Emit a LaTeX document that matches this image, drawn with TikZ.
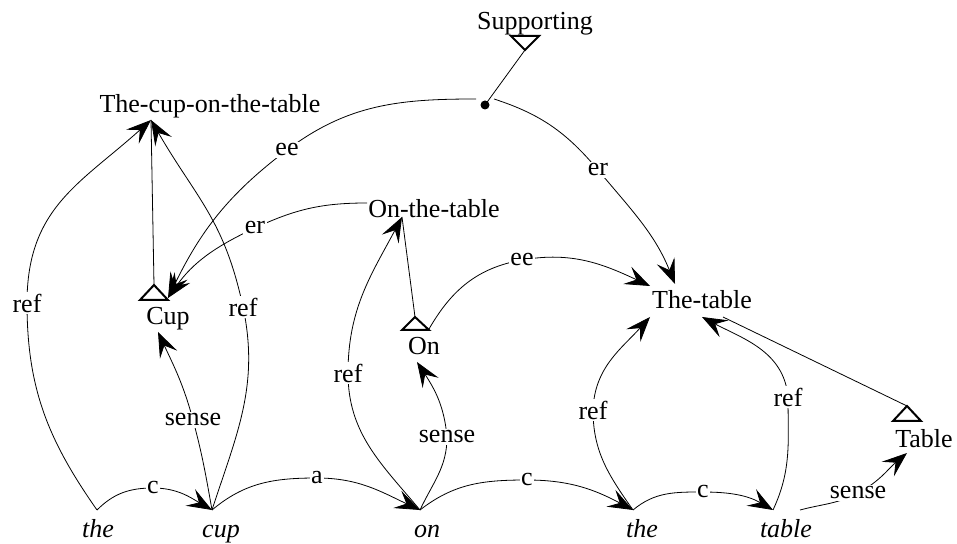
\documentclass[tikz,border=0pt]{standalone}
\usepackage{fontspec}
\setmainfont{Liberation Serif}
\usetikzlibrary{arrows.meta}
\begin{document}
\begin{tikzpicture}[x=1pt,y=1pt,
  conn/.style={line width=0.8pt},
  arr/.style={conn,-{Stealth[length=25pt,width=19pt,inset=10pt]}},
  lbl/.style={fill=white,inner sep=1.5pt},
  txt/.style={inner sep=0pt, anchor=base},
  tri/.style={draw, line width=2pt, fill=white, line join=miter},
  every node/.append style={font=\fontsize{26}{30}\selectfont}
]
\useasboundingbox (0,0) rectangle (957,543);

% concept nodes
\node[txt] (tcott) at (210,430) {The-cup-on-the-table};
\node[txt] (supp) at (535,513) {Supporting};
\node[txt] (cup) at (168,218) {Cup};
\node[txt] (onthetable) at (434,325) {On-the-table};
\node[txt] (on) at (424,188) {On};
\node[txt] (thetable) at (702,234) {The-table};
\node[txt] (table) at (924,95) {Table};

% words
\node[txt] (wthe) at (98,6) {\itshape the};
\node[txt] (wcup) at (221,6) {\itshape cup};
\node[txt] (won) at (427,6) {\itshape on};
\node[txt] (wthetwo) at (642,6) {\itshape the};
\node[txt] (wtable) at (786,6) {\itshape table};

% ports
\coordinate (pthe) at (97,33);
\coordinate (pcup) at (212,33);
\coordinate (pon) at (420,33);
\coordinate (pthetwo) at (633,33);
\coordinate (ptable) at (773,33);
\coordinate (ptablee) at (800,33);

\coordinate (tcott-s) at (151,423);
\coordinate (cup-apex) at (154,258);
\coordinate (cup-tip) at (168,245);
\coordinate (cup-s) at (158,211);
\coordinate (ott-s) at (402,326);
\coordinate (ott-w) at (367,340);
\coordinate (on-apex) at (415,226);
\coordinate (on-e) at (429,214);
\coordinate (on-s) at (417,181);
\coordinate (tt-nw) at (650,257);
\coordinate (tt-n) at (675,259);
\coordinate (tt-sw) at (650,226);
\coordinate (tt-s) at (702,226);
\coordinate (tt-se) at (723,226);
\coordinate (table-apex) at (907,137);
\coordinate (table-s) at (907,90);
\coordinate (supp-apex) at (525,493);
\coordinate (dot) at (485,438);
\coordinate (dot-w) at (476,444);
\coordinate (dot-e) at (494,444);

% plain links
\draw[conn] (tcott-s) -- (cup-apex);
\draw[conn] (ott-s) -- (on-apex);
\draw[conn] (tt-se) -- (table-apex);
\draw[conn] (supp-apex) -- (dot);

% triangles
\draw[tri] (140,243) -- (168,243) -- (cup-apex) -- cycle;
\draw[tri] (402,213) -- (429,213) -- (on-apex) -- cycle;
\draw[tri] (893,122) -- (921,122) -- (table-apex) -- cycle;
\draw[tri] (511,507) -- (539,507) -- (supp-apex) -- cycle;
\fill (dot) circle (4.5);

% arcs between words
\draw[arr] (pthe) to[out=45,in=180] (153,55) node[lbl]{c} to[out=0,in=150] (pcup);
\draw[arr] (pcup) to[out=40,in=180] (317,65) node[lbl]{a} to[out=0,in=155] (pon);
\draw[arr] (pon) to[out=38,in=180] (527,63) node[lbl]{c} to[out=0,in=152] (pthetwo);
\draw[arr] (pthetwo) to[out=40,in=180] (703,51) node[lbl]{c} to[out=0,in=150] (ptable);

% ref / sense
\draw[arr] (pthe) to[out=125,in=-90] (27,240) node[lbl]{ref} to[out=90,in=-138,looseness=1.1] (tcott-s);
\draw[arr] (pcup) to[out=72,in=-78] (243,236) node[lbl]{ref} to[out=102,in=-60,looseness=1.1] (tcott-s);
\draw[arr] (pcup) to[out=100,in=-75] (193,123) node[lbl]{sense} to[out=105,in=-65] (cup-s);
\draw[arr] (pon) to[out=130,in=-90] (348,170) node[lbl]{ref} to[out=90,in=-118] (ott-s);
\draw[arr] (pon) to[out=65,in=-90] (447,106) node[lbl]{sense} to[out=95,in=-57] (on-s);
\draw[arr] (pthetwo) to[out=125,in=-90] (593,133) node[lbl]{ref} to[out=88,in=-132] (tt-sw);
\draw[arr] (ptable) to[out=65,in=-90] (788,146) node[lbl]{ref} to[out=95,in=-28] (tt-s);
\draw[arr] (ptablee) to[out=15,in=-152] (858,50) node[lbl]{sense} to[out=28,in=-140] (table-s);

% ee / er
\draw[arr] (dot-w) to[out=180,in=37] (287,393) node[lbl]{ee} to[out=217,in=64] (cup-tip);
\draw[arr] (dot-e) to[out=-18,in=130] (598,373) node[lbl]{er} to[out=-50,in=112] (tt-n);
\draw[arr] (ott-w) to[out=180,in=25] (255,315) node[lbl]{er} to[out=205,in=55] (cup-tip);
\draw[arr] (on-e) to[out=60,in=-170] (522,283) node[lbl]{ee} to[out=10,in=155] (tt-nw);
\end{tikzpicture}
\end{document}
